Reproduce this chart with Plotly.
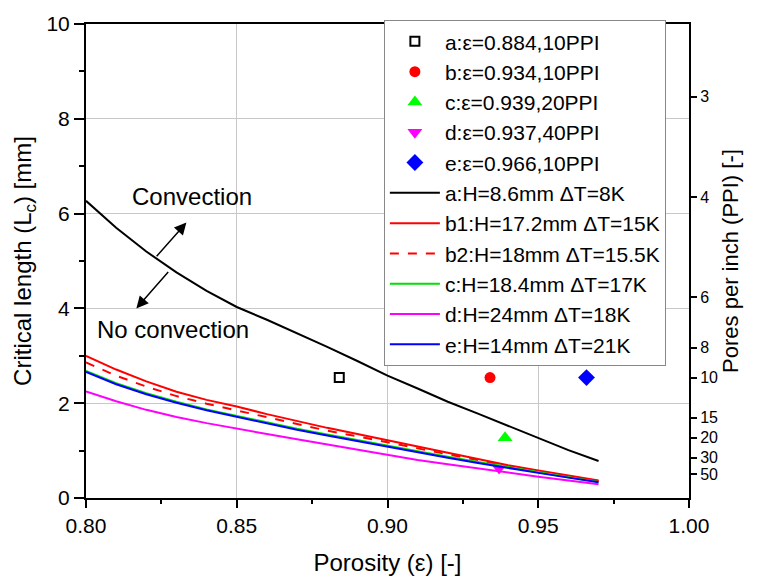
import plotly.graph_objects as go

porosity = [0.80, 0.81, 0.82, 0.83, 0.84, 0.85, 0.86, 0.87, 0.88, 0.89,
            0.90, 0.91, 0.92, 0.93, 0.94, 0.95, 0.96, 0.97]
curve_a = [6.27, 5.70, 5.20, 4.76, 4.37, 4.03, 3.76, 3.48, 3.19, 2.89,
           2.58, 2.31, 2.03, 1.78, 1.52, 1.26, 1.01, 0.78]
curve_b1 = [3.00, 2.71, 2.46, 2.24, 2.07, 1.93, 1.77, 1.62, 1.48, 1.35,
            1.22, 1.08, 0.95, 0.82, 0.69, 0.58, 0.47, 0.37]
curve_b2 = [2.86, 2.58, 2.35, 2.15, 1.99, 1.85, 1.70, 1.56, 1.42, 1.30,
            1.17, 1.04, 0.92, 0.80, 0.67, 0.56, 0.46, 0.36]
curve_c = [2.68, 2.42, 2.21, 2.03, 1.87, 1.73, 1.59, 1.46, 1.34, 1.22,
           1.10, 0.98, 0.87, 0.76, 0.65, 0.54, 0.44, 0.34]
curve_d = [2.25, 2.04, 1.86, 1.71, 1.58, 1.46, 1.35, 1.24, 1.13, 1.01,
           0.90, 0.80, 0.71, 0.62, 0.53, 0.45, 0.37, 0.29]
curve_e = [2.66, 2.40, 2.19, 2.01, 1.85, 1.71, 1.57, 1.44, 1.32, 1.20,
           1.08, 0.96, 0.85, 0.74, 0.63, 0.53, 0.43, 0.33]

# experimental points: porosity, PPI
pt_labels = ["a:ε=0.884,10PPI", "b:ε=0.934,10PPI", "c:ε=0.939,20PPI",
             "d:ε=0.937,40PPI", "e:ε=0.966,10PPI"]
pt_eps = [0.884, 0.934, 0.939, 0.937, 0.966]
pt_ppi = [10, 10, 20, 40, 10]

curve_labels = ["a:H=8.6mm ΔT=8K", "b1:H=17.2mm ΔT=15K", "b2:H=18mm ΔT=15.5K",
                "c:H=18.4mm ΔT=17K", "d:H=24mm ΔT=18K", "e:H=14mm ΔT=21K"]

ppi_ticks = [3, 4, 6, 8, 10, 15, 20, 30, 50]
INCH_MM = 25.4

FONT = "Arial, Liberation Sans, sans-serif"

fig = go.Figure()

pt_styles = [
    dict(symbol="square-open", size=9, color="black", line=dict(width=2, color="black")),
    dict(symbol="circle", size=11, color="#ff0000"),
    dict(symbol="triangle-up", size=13, color="#00ff00"),
    dict(symbol="triangle-down", size=13, color="#ff00ff"),
    dict(symbol="diamond", size=13, color="#0000ff"),
]
for lab, e, p, st in zip(pt_labels, pt_eps, pt_ppi, pt_styles):
    fig.add_trace(go.Scatter(x=[e], y=[INCH_MM / p], mode="markers", name=lab,
                             marker=st))

curves = [curve_a, curve_b1, curve_b2, curve_c, curve_d, curve_e]
cstyles = [dict(color="black", width=2), dict(color="#ff0000", width=2),
           dict(color="#ff0000", width=2, dash="dash"), dict(color="#00e000", width=2),
           dict(color="#ff00ff", width=2), dict(color="#0000ff", width=2)]
for lab, cy, st in zip(curve_labels, curves, cstyles):
    fig.add_trace(go.Scatter(x=porosity, y=cy, mode="lines", name=lab, line=st))

# dummy trace for right axis
fig.add_trace(go.Scatter(x=[0.8], y=[0], yaxis="y2", mode="markers",
                         marker=dict(opacity=0), showlegend=False, hoverinfo="skip"))

fig.add_annotation(x=0.835, y=6.37, text="Convection", showarrow=False,
                   font=dict(size=24, color="black", family=FONT))
fig.add_annotation(x=0.8287, y=3.56, text="No convection", showarrow=False,
                   font=dict(size=24, color="black", family=FONT))
fig.add_annotation(x=0.8333, y=5.81, ax=0.823, ay=5.07, axref="x", ayref="y",
                   xref="x", yref="y", text="", showarrow=True, arrowhead=2,
                   arrowsize=1.6, arrowwidth=1.5, arrowcolor="black")
fig.add_annotation(x=0.8167, y=4.0, ax=0.8277, ay=4.80, axref="x", ayref="y",
                   xref="x", yref="y", text="", showarrow=True, arrowhead=2,
                   arrowsize=1.6, arrowwidth=1.5, arrowcolor="black")

fig.update_layout(
    width=761, height=584,
    margin=dict(l=86, r=72, t=16, b=83),
    paper_bgcolor="white", plot_bgcolor="white",
    font=dict(family=FONT, size=21, color="black"),
    showlegend=True,
    legend=dict(x=0.494, y=1.008, xanchor="left", yanchor="top",
                bgcolor="white", bordercolor="#888888", borderwidth=1,
                font=dict(size=21, family=FONT), itemwidth=50,
                tracegroupgap=0, maxheight=560),
    xaxis=dict(range=[0.80, 1.00], tickvals=[0.80, 0.85, 0.90, 0.95, 1.00],
               ticktext=["0.80", "0.85", "0.90", "0.95", "1.00"],
               ticks="outside", ticklen=8, tickwidth=1.5, tickcolor="black",
               showline=True, linecolor="black", linewidth=2, mirror=True,
               showgrid=True, gridcolor="#c8c8c8", gridwidth=1, zeroline=False,
               minor=dict(ticks="outside", ticklen=4, tickwidth=1.5,
                          tickcolor="black", dtick=0.025, showgrid=False),
               title=dict(text="Porosity (ε) [-]", font=dict(size=24), standoff=18),
               tickfont=dict(size=21)),
    yaxis=dict(range=[0, 10], tickvals=[0, 2, 4, 6, 8, 10],
               ticks="outside", ticklen=10, tickwidth=1.5, tickcolor="black",
               showline=True, linecolor="black", linewidth=2, mirror=True,
               showgrid=True, gridcolor="#c8c8c8", gridwidth=1, zeroline=False,
               minor=dict(ticks="outside", ticklen=5, tickwidth=1.5,
                          tickcolor="black", dtick=1, showgrid=False),
               title=dict(text="Critical length (L<sub>c</sub>) [mm]",
                          font=dict(size=24), standoff=8),
               tickfont=dict(size=21)),
    yaxis2=dict(range=[0, 10], overlaying="y", side="right",
                tickvals=[INCH_MM / p for p in ppi_ticks],
                ticktext=[str(p) for p in ppi_ticks],
                ticks="outside", ticklen=6, tickwidth=1.5, tickcolor="black",
                showline=True, linecolor="black", linewidth=2,
                showgrid=False, zeroline=False,
                title=dict(text="Pores per inch (PPI) [-]", font=dict(size=22),
                           standoff=6),
                tickfont=dict(size=16)),
)

fig.write_html("out.html")
